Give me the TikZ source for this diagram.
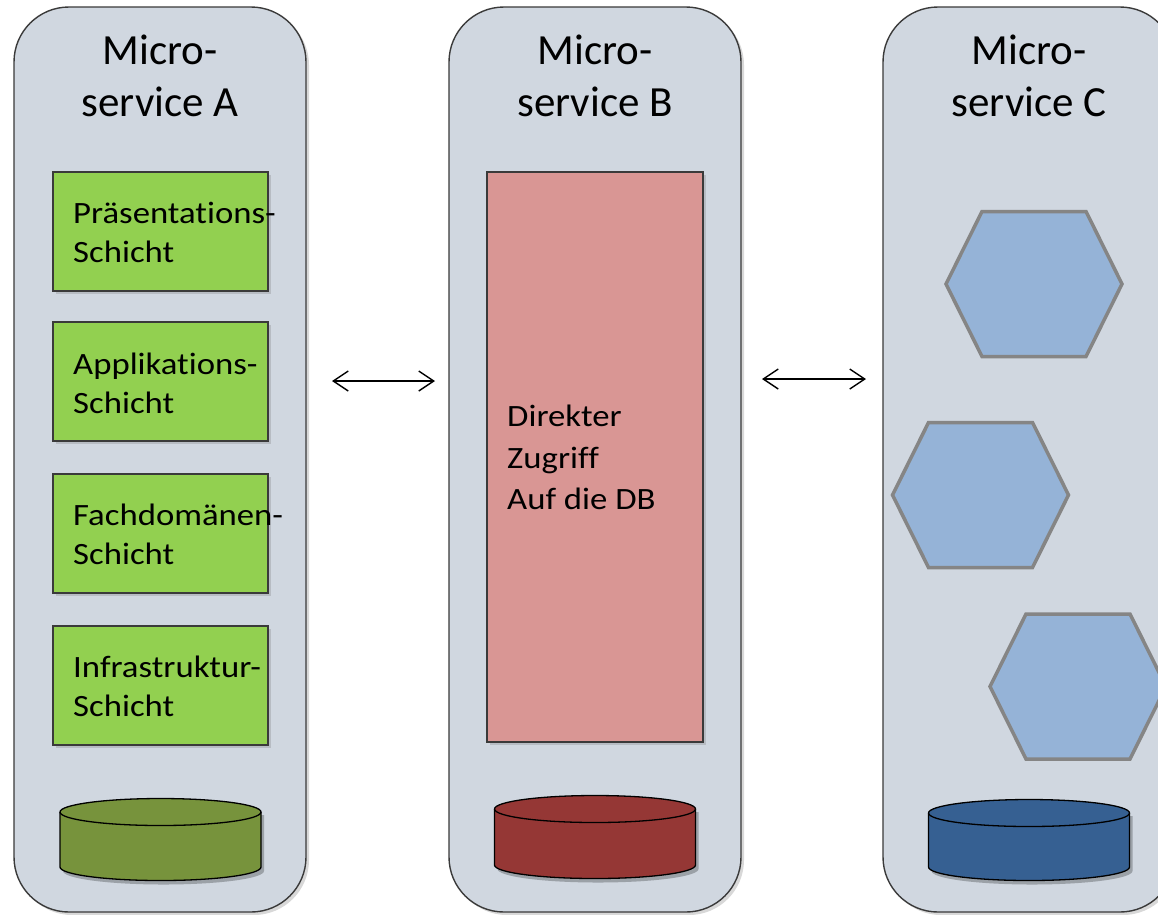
\documentclass[tikz,border=0pt]{standalone}
\usepackage{fontspec}
\setmainfont{Carlito}[Ligatures=NoCommon]
\newfontfamily\widefont{Carlito}[FakeStretch=1.12, Ligatures=NoCommon]
\usetikzlibrary{shadows,arrows.meta}
\definecolor{colfill}{HTML}{D0D7E0}
\definecolor{edge}{HTML}{3A3A3A}
\definecolor{layergreen}{HTML}{92D050}
\definecolor{dbred}{HTML}{D99694}
\definecolor{hexfill}{HTML}{95B3D7}
\definecolor{hexedge}{HTML}{858585}
\definecolor{dbA}{HTML}{77933C}
\definecolor{dbB}{HTML}{953735}
\definecolor{dbC}{HTML}{366092}
\tikzset{
  column/.style={draw=edge, line width=1.4pt, fill=colfill, rounded corners=55pt,
    minimum width=292pt, minimum height=905pt, inner sep=0pt,
    drop shadow={opacity=0.3, shadow xshift=3pt, shadow yshift=-3pt}},
  coltitle/.style={font=\fontsize{43}{52}\selectfont, align=center, inner sep=0pt},
  layer/.style={draw=edge, line width=1.2pt, fill=layergreen, minimum width=215pt,
    minimum height=119pt, inner sep=0pt,
    drop shadow={opacity=0.3, shadow xshift=3pt, shadow yshift=-3pt}},
  layertext/.style={font=\widefont\fontsize{31}{39}\selectfont, align=left, anchor=west, inner sep=0pt},
  directbox/.style={draw=edge, line width=1.2pt, fill=dbred, minimum width=216pt,
    minimum height=570pt, inner sep=0pt,
    drop shadow={opacity=0.3, shadow xshift=3pt, shadow yshift=-3pt}},
  hexshape/.style={draw=hexedge, line width=3.5pt, fill=hexfill, line join=miter},
  dbshape/.style={draw=black, line width=1.3pt},
  link/.style={line width=1.4pt, {Straight Barb[length=15pt,width=20pt]}-{Straight Barb[length=15pt,width=20pt]}}
}
\begin{document}
\begin{tikzpicture}[x=1pt,y=-1pt]
\useasboundingbox (0,0) rectangle (1158,914);
\clip (0,0) rectangle (1158,914);
\fill[white] (0,0) rectangle (1158,914);

% columns
\node[column] (colA) at (160,459.5) {};
\node[column] (colB) at (595,459.5) {};
\node[column] (colC) at (1029,459.5) {};

\node[coltitle] (tA) at (160,76) {Micro-\\service A};
\node[coltitle] (tB) at (595,76) {Micro-\\service B};
\node[coltitle] (tC) at (1029,76) {Micro-\\service C};

% layers of A
\node[layer] (g1) at (160.5,231.5) {};
\node[layer] (g2) at (160.5,381.5) {};
\node[layer] (g3) at (160.5,533.5) {};
\node[layer] (g4) at (160.5,685.5) {};
\node[layertext] (l1) at (73,232.5) {Präsentations-\\Schicht};
\node[layertext] (l2) at (73,383) {Applikations-\\Schicht};
\node[layertext] (l3) at (73,534) {Fachdomänen-\\Schicht};
\node[layertext] (l4) at (73,686) {Infrastruktur-\\Schicht};

% direct access box of B
\node[directbox] (red) at (595,457) {};
\node[layertext, font=\widefont\fontsize{31}{41.5}\selectfont] (rt) at (507,457.5) {Direkter\\Zugriff\\Auf die DB};

% hexagons of C
\draw[hexshape] (1034,284) ++(-88,0) -- ++(36,-72.5) -- ++(104,0) -- ++(36,72.5) -- ++(-36,72.5) -- ++(-104,0) -- cycle;
\draw[hexshape] (980.5,495) ++(-88,0) -- ++(36,-72.5) -- ++(104,0) -- ++(36,72.5) -- ++(-36,72.5) -- ++(-104,0) -- cycle;
\draw[hexshape] (1078,686.5) ++(-88,0) -- ++(36,-72.5) -- ++(104,0) -- ++(36,72.5) -- ++(-36,72.5) -- ++(-104,0) -- cycle;

% databases
\foreach \cx/\ct/\cb/\col in {160.5/812/867/dbA, 595/809/865/dbB, 1029/813/867/dbC}{
  \fill[black, opacity=0.25] (\cx-100.5+3,\ct+3) -- (\cx-100.5+3,\cb+4) arc[start angle=180, end angle=0, x radius=100.5, y radius=13.5] -- (\cx+100.5+3,\ct+3) -- cycle;
  \draw[dbshape, fill=\col] (\cx-100.5,\ct) -- (\cx-100.5,\cb) arc[start angle=180, end angle=0, x radius=100.5, y radius=13.5] -- (\cx+100.5,\ct) arc[start angle=0, end angle=-180, x radius=100.5, y radius=13.5] -- cycle;
  \draw[dbshape] (\cx-100.5,\ct) arc[start angle=180, end angle=0, x radius=100.5, y radius=13.5];
}

% connectors
\coordinate (a1) at (332,381);
\coordinate (b1) at (435,381);
\coordinate (a2) at (762,379);
\coordinate (b2) at (866,379);
\draw[link] (a1) -- (b1);
\draw[link] (a2) -- (b2);
\end{tikzpicture}
\end{document}
